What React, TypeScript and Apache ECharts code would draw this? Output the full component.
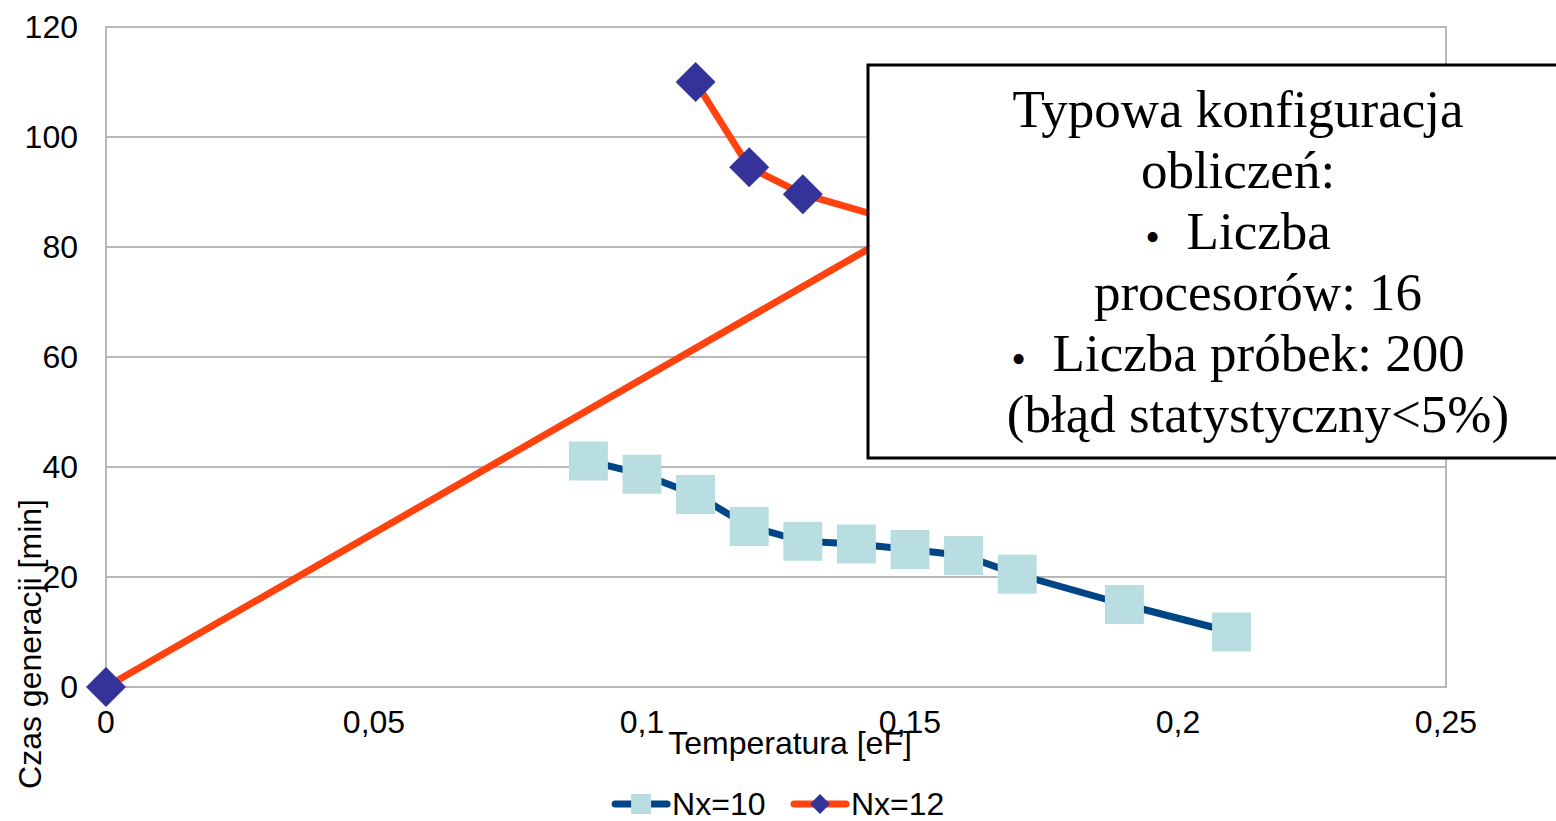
import React, { useEffect, useRef } from 'react';
import * as echarts from 'echarts';

// dane
const nx10Temps = [0.09, 0.1, 0.11, 0.12, 0.13, 0.14, 0.15, 0.16, 0.17, 0.19, 0.21];
const nx10Times = [41.1, 38.7, 35.0, 29.2, 26.5, 26.0, 25.0, 23.9, 20.5, 15.0, 10.0];
const nx12Temps = [0.11, 0.12, 0.13, 0.15, 0];
const nx12Times = [110, 94.5, 89.6, 84, 0];
const seriesNames = ['Nx=10', 'Nx=12'];
const xTicks = [0, 0.05, 0.1, 0.15, 0.2, 0.25];
const yTicks = [0, 20, 40, 60, 80, 100, 120];
const xAxisName = 'Temperatura [eF]';
const yAxisName = 'Czas generacji [min]';
const boxLines = [
  'Typowa konfiguracja',
  'obliczeń:',
  '{b|•}  Liczba',
  'procesorów: 16',
  '{b|•}  Liczba próbek: 200',
  '(błąd statystyczny<5%)',
];
// linie z wcięciem (kontynuacja punktu)
const indentedLines = [3, 5];

const SANS = '"Liberation Sans", Arial, sans-serif';
const SERIF = '"Liberation Serif", "Times New Roman", serif';

const App: React.FC = () => {
  const chartRef = useRef<HTMLDivElement>(null);

  useEffect(() => {
    if (!chartRef.current) return;
    document.body.style.margin = '0';
    const chart = echarts.init(chartRef.current, undefined, { renderer: 'svg' });

    const fmt = (v: number) => String(+v.toFixed(2)).replace('.', ',');

    const boxText = boxLines.map((line, i) => ({
      type: 'text',
      x: indentedLines.includes(i) ? 1258 : 1238,
      y: 109 + 61 * i,
      z: 101,
      style: {
        text: line,
        font: `53px ${SERIF}`,
        fill: '#000',
        align: 'center',
        verticalAlign: 'middle',
        rich: {
          b: { fontSize: 42, fontFamily: SERIF, verticalAlign: 'bottom', fill: '#000' },
        },
      },
    }));

    const option: any = {
      animation: false,
      backgroundColor: '#fff',
      grid: {
        left: 106,
        right: 110,
        top: 27,
        bottom: 134,
        show: true,
        borderColor: '#b8b8b8',
        borderWidth: 2,
        backgroundColor: 'transparent',
      },
      legend: {
        data: seriesNames,
        left: 'center',
        top: 783,
        itemWidth: 52,
        itemHeight: 25,
        itemGap: 25,
        lineStyle: { width: 7, cap: 'round' },
        textStyle: { fontSize: 32, fontFamily: SANS, color: '#000' },
      },
      xAxis: {
        type: 'value',
        min: xTicks[0],
        max: xTicks[xTicks.length - 1],
        interval: xTicks[1] - xTicks[0],
        name: xAxisName,
        nameLocation: 'middle',
        nameGap: 40,
        nameMoveOverlap: false,
        nameTextStyle: {
          fontSize: 32,
          fontFamily: SANS,
          color: '#000',
          padding: [0, 0, 0, 28],
        },
        axisLine: { show: true, lineStyle: { color: '#b8b8b8', width: 2 } },
        axisTick: { show: false },
        splitLine: { show: false },
        axisLabel: {
          fontSize: 32,
          fontFamily: SANS,
          color: '#000',
          margin: 19,
          formatter: fmt,
        },
      },
      yAxis: {
        type: 'value',
        min: yTicks[0],
        max: yTicks[yTicks.length - 1],
        interval: yTicks[1] - yTicks[0],
        axisLine: { show: true, lineStyle: { color: '#b8b8b8', width: 2 } },
        axisTick: { show: false },
        splitLine: { show: true, lineStyle: { color: '#b8b8b8', width: 2 } },
        axisLabel: {
          fontSize: 32,
          fontFamily: SANS,
          color: '#000',
          margin: 28,
        },
      },
      series: [
        {
          name: seriesNames[0],
          type: 'line',
          data: nx10Temps.map((t, i) => [t, nx10Times[i]]),
          symbol: 'rect',
          symbolSize: 39,
          lineStyle: { color: '#004586', width: 7 },
          itemStyle: { color: '#b9dee2' },
        },
        {
          name: seriesNames[1],
          type: 'line',
          data: nx12Temps.map((t, i) => [t, nx12Times[i]]),
          symbol: 'diamond',
          symbolSize: 40,
          lineStyle: { color: '#ff420e', width: 7 },
          itemStyle: { color: '#333399' },
        },
      ],
      graphic: [
        {
          type: 'text',
          x: 30,
          y: 644,
          rotation: Math.PI / 2,
          z: 50,
          style: {
            text: yAxisName,
            font: `32px ${SANS}`,
            fill: '#000',
            align: 'center',
            verticalAlign: 'middle',
          },
        },
        {
          type: 'rect',
          z: 100,
          shape: { x: 868, y: 65, width: 760, height: 393 },
          style: { fill: '#fff', stroke: '#000', lineWidth: 3 },
        },
        ...boxText,
      ],
    };

    chart.setOption(option);
    return () => {
      chart.dispose();
    };
  }, []);

  return (
    <div
      ref={chartRef}
      style={{ position: 'fixed', left: 0, top: 0, width: 1556, height: 821 }}
    />
  );
};

export default App;
